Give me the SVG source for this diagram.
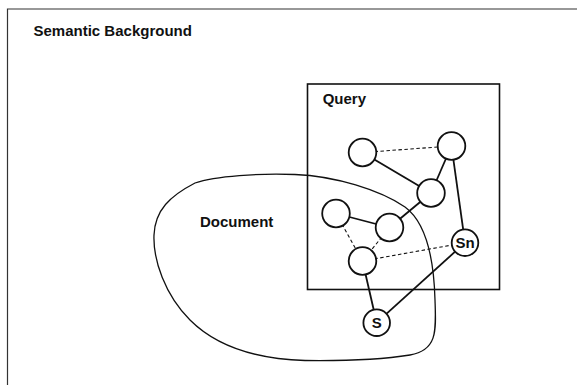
<svg xmlns="http://www.w3.org/2000/svg" width="577" height="385" viewBox="0 0 577 385">
<style>
text{font-family:"Liberation Sans",Arial,sans-serif;font-weight:bold;fill:#111;}
.lbl{font-size:15px;}
.node circle{fill:#fff;stroke:#111;stroke-width:1.8;}
.solid{stroke:#111;stroke-width:1.8;fill:none;}
.dash{stroke:#111;stroke-width:1.1;stroke-dasharray:3.5 2.5;fill:none;}
</style>
<rect width="577" height="385" fill="#fff"/>
<g id="frame">
<path d="M7.5,385 V9 H577" fill="none" stroke="#333" stroke-width="1.2"/>
<text class="lbl" x="33.5" y="35.5">Semantic Background</text>
</g>
<g id="document">
<path d="M195,183 C215,176 260,173 295,174.5 C335,176 380,190 405,207 C428,224 434,262 435,300 C436,330 438,350 410,355 C385,359 345,361 305,360.5 C255,359 215,345 190,320 C165,295 153,260 154,235 C155,210 170,196 195,183 Z" fill="none" stroke="#111" stroke-width="1.3"/>
<text class="lbl" x="200" y="227">Document</text>
</g>
<g id="query">
<rect x="307.5" y="84" width="192" height="205.5" fill="none" stroke="#111" stroke-width="1.6"/>
<text class="lbl" x="322.7" y="104">Query</text>
</g>
<g id="connectors">
<line class="dash" x1="362.5" y1="152.5" x2="451.5" y2="146"/>
<line class="solid" x1="362.5" y1="152.5" x2="431" y2="193"/>
<line class="solid" x1="451.5" y1="146" x2="431" y2="193"/>
<line class="solid" x1="451.5" y1="146" x2="465" y2="242.7"/>
<line class="solid" x1="431" y1="193" x2="389.5" y2="227.5"/>
<line class="solid" x1="336" y1="213.5" x2="389.5" y2="227.5"/>
<line class="dash" x1="336" y1="213.5" x2="362.5" y2="261"/>
<line class="dash" x1="389.5" y1="227.5" x2="362.5" y2="261"/>
<line class="dash" x1="362.5" y1="261" x2="465" y2="242.7"/>
<line class="solid" x1="362.5" y1="261" x2="376.7" y2="322.7"/>
<line class="solid" x1="465" y1="242.7" x2="376.7" y2="322.7"/>
</g>
<g id="n1" class="node"><circle cx="362.5" cy="152.5" r="13.8"/></g>
<g id="n2" class="node"><circle cx="451.5" cy="146" r="13.8"/></g>
<g id="n3" class="node"><circle cx="431" cy="193" r="13.8"/></g>
<g id="n4" class="node"><circle cx="336" cy="213.5" r="13.8"/></g>
<g id="n5" class="node"><circle cx="389.5" cy="227.5" r="13.8"/></g>
<g id="n6" class="node"><circle cx="362.5" cy="261" r="13.8"/></g>
<g id="sn" class="node"><circle cx="465" cy="242.7" r="13.3"/><text x="465" y="248" text-anchor="middle" font-size="15">Sn</text></g>
<g id="s" class="node"><circle cx="376.7" cy="322.7" r="13.3"/><text x="376.7" y="328" text-anchor="middle" font-size="15">S</text></g>
</svg>
